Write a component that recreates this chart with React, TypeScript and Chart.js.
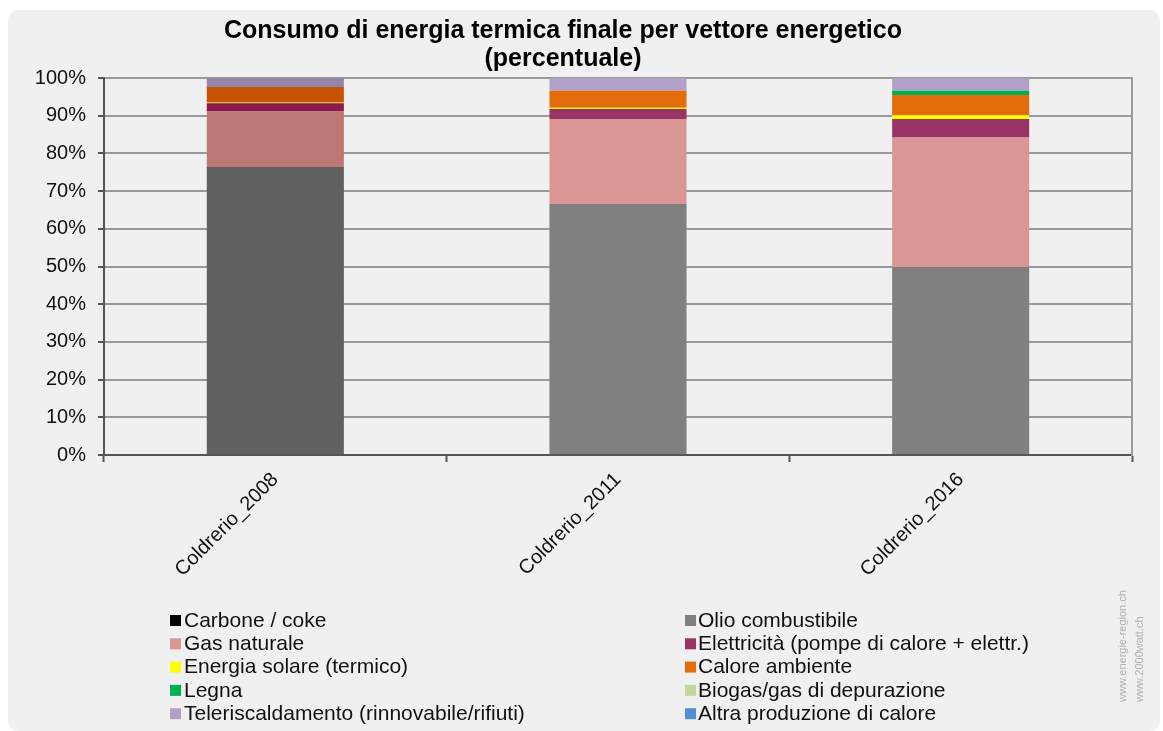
import React, { useEffect, useRef } from "react";
import { Chart, registerables } from "chart.js";

Chart.register(...registerables);

const categories = ["Coldrerio_2008", "Coldrerio_2011", "Coldrerio_2016"];

const carbone = [0, 0, 0];
const olio = [76.4, 66.6, 49.9];
const gasNaturale = [14.7, 22.5, 34.3];
const elettricita = [2.2, 2.7, 4.9];
const solare = [0.3, 0.3, 1.0];
const caloreAmbiente = [4.0, 4.5, 5.4];
const legna = [0, 0, 1.1];
const biogas = [0, 0, 0];
const teleriscaldamento = [2.4, 3.4, 3.4];
const altra = [0, 0, 0];

const seriesLabels = [
  "Carbone / coke",
  "Olio combustibile",
  "Gas naturale",
  "Elettricità (pompe di calore + elettr.)",
  "Energia solare (termico)",
  "Calore ambiente",
  "Legna",
  "Biogas/gas di depurazione",
  "Teleriscaldamento (rinnovabile/rifiuti)",
  "Altra produzione di calore",
];
const seriesValues = [
  carbone,
  olio,
  gasNaturale,
  elettricita,
  solare,
  caloreAmbiente,
  legna,
  biogas,
  teleriscaldamento,
  altra,
];
const seriesColors = [
  "#000000",
  "#808080",
  "#d99694",
  "#993366",
  "#ffff00",
  "#e46c0a",
  "#00b050",
  "#c4d79b",
  "#b1a0c7",
  "#558ed5",
];
// first column appears highlighted (darker) in the source
const seriesColorsDark = [
  "#000000",
  "#606060",
  "#bd7775",
  "#8b1a4c",
  "#e0c000",
  "#c75405",
  "#008a40",
  "#a3b67c",
  "#9585a8",
  "#3f70b0",
];

const titleLines = ["Consumo di energia termica finale per vettore energetico", "(percentuale)"];
const watermark = ["www.energie-region.ch", "www.2000watt.ch"];

const FONT = "'Liberation Sans', Arial, Helvetica, sans-serif";
const W = 1152;
const H = 721;

const decorPlugin = {
  id: "decor",
  afterDraw(chart: any) {
    const ctx = chart.ctx as CanvasRenderingContext2D;
    ctx.save();
    // title
    ctx.fillStyle = "#000";
    ctx.textAlign = "center";
    ctx.textBaseline = "middle";
    ctx.font = `bold 25px ${FONT}`;
    ctx.fillText(titleLines[0], 555, 21);
    ctx.fillText(titleLines[1], 555, 49);

    // legend
    ctx.font = `21px ${FONT}`;
    ctx.textAlign = "left";
    chart.data.datasets.forEach((ds: any, i: number) => {
      const col = i % 2;
      const row = Math.floor(i / 2);
      const y = 610 + row * 23.3;
      const bx = col ? 677 : 162;
      const tx = col ? 690 : 176;
      ctx.fillStyle = seriesColors[i];
      ctx.fillRect(bx, y - 5, 11, 11);
      ctx.fillStyle = "#111";
      ctx.fillText(ds.label, tx, y + 1);
    });

    // watermark
    ctx.fillStyle = "#b0b0b0";
    ctx.font = `11px ${FONT}`;
    ctx.textBaseline = "middle";
    ctx.textAlign = "left";
    const xs = [1115, 1132];
    watermark.forEach((t, i) => {
      ctx.save();
      ctx.translate(xs[i], 692);
      ctx.rotate(-Math.PI / 2);
      ctx.fillText(t, 0, 0);
      ctx.restore();
    });
    ctx.restore();
  },
};

export default function App() {
  const ref = useRef<HTMLCanvasElement | null>(null);

  useEffect(() => {
    if (!ref.current) return;
    const chart = new Chart(ref.current, {
      type: "bar",
      data: {
        labels: categories,
        datasets: seriesLabels.map((label, i) => ({
          label,
          data: seriesValues[i],
          backgroundColor: categories.map((_, j) => (j === 0 ? seriesColorsDark[i] : seriesColors[i])),
          borderWidth: 0,
          barPercentage: 0.4,
          categoryPercentage: 1,
          yAxisID: "y",
        })),
      },
      options: {
        responsive: false,
        animation: false,
        devicePixelRatio: 1,
        layout: { padding: { left: 0, right: 28, top: 68, bottom: 0 } },
        plugins: {
          legend: { display: false },
          title: { display: false },
          tooltip: { enabled: false },
        },
        scales: {
          x: {
            stacked: true,
            offset: true,
            grid: {
              display: true,
              offset: true,
              drawOnChartArea: false,
              drawTicks: true,
              tickLength: 7,
              tickColor: "#555",
              tickWidth: 2,
            },
            border: { display: true, color: "#555", width: 2 },
            ticks: {
              color: "#111",
              font: { family: FONT, size: 20 },
              minRotation: 45,
              maxRotation: 45,
              padding: 6,
            },
            afterFit(scale: any) {
              scale.height = H - 445;
            },
          },
          y: {
            stacked: true,
            min: 0,
            max: 100,
            ticks: {
              stepSize: 10,
              color: "#111",
              font: { family: FONT, size: 20 },
              padding: 12,
              callback: (v: any) => `${v}%`,
            },
            grid: {
              color: "#999",
              lineWidth: 2,
              tickLength: 6,
              tickColor: "#555",
              tickWidth: 2,
            },
            border: { display: true, color: "#555", width: 2 },
            afterFit(scale: any) {
              scale.width = 96;
            },
          },
          y2: {
            position: "right",
            min: 0,
            max: 100,
            display: true,
            ticks: { display: false },
            grid: { display: false, drawTicks: false },
            border: { display: true, color: "#999", width: 2 },
            afterFit(scale: any) {
              scale.width = 0;
            },
          },
        },
      },
      plugins: [decorPlugin],
    });
    return () => chart.destroy();
  }, []);

  return (
    <div
      style={{
        position: "absolute",
        left: 8,
        top: 10,
        width: W,
        height: H,
        background: "#f0f0f0",
        borderRadius: 10,
        overflow: "hidden",
      }}
    >
      <canvas ref={ref} width={W} height={H} style={{ display: "block" }} />
    </div>
  );
}
